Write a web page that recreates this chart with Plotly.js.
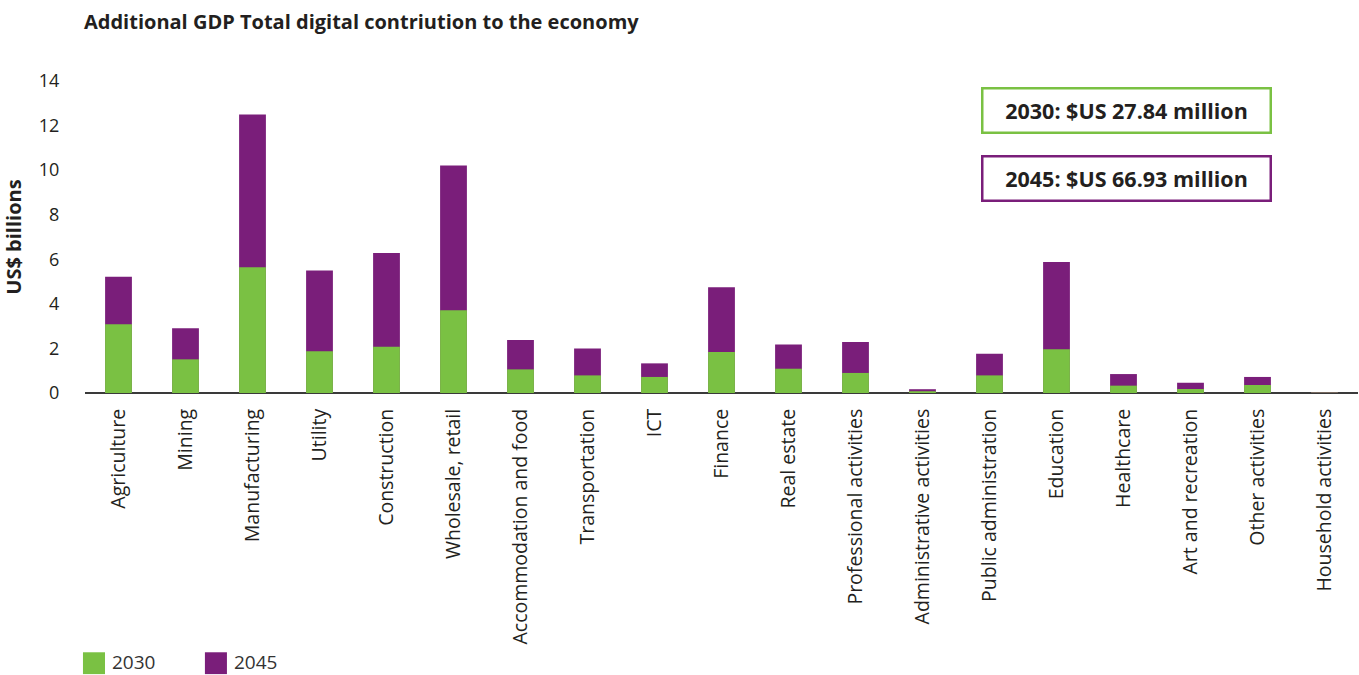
<!DOCTYPE html>
<html>
<head>
<meta charset="utf-8">
<script src="https://cdn.plot.ly/plotly-3.0.1.min.js"></script>
<style>
html,body{margin:0;padding:0;background:#fff;}
#chart{width:1359px;height:675px;}
</style>
</head>
<body>
<div id="chart"></div>
<script>
const categories = ["Agriculture","Mining","Manufacturing","Utility","Construction","Wholesale, retail","Accommodation and food","Transportation","ICT","Finance","Real estate","Professional activities","Administrative activities","Public administration","Education","Healthcare","Art and recreation","Other activities","Household activities"];
const values2030 = [3.08,1.51,5.64,1.87,2.08,3.71,1.06,0.79,0.72,1.84,1.09,0.90,0.08,0.79,1.96,0.33,0.18,0.36,0.02];
const values2045 = [5.22,2.90,12.50,5.50,6.28,10.21,2.38,2.00,1.33,4.74,2.18,2.29,0.17,1.76,5.88,0.85,0.46,0.72,0.04];
const yTicks = [0,2,4,6,8,10,12,14];
const seriesNames = ["2030","2045"];
const boxTexts = ["2030: $US 27.84 million","2045: $US 66.93 million"];

const GREEN = "#7ac143";
const PURPLE = "#7a1e7a";
const FONT = "Open Sans, Noto Sans, sans-serif";
const TXT = "#231f20";

const traces = [
  {type:"bar", name:seriesNames[1], x:categories, y:values2045, marker:{color:PURPLE}, width:0.4, showlegend:false},
  {type:"bar", name:seriesNames[0], x:categories, y:values2030, marker:{color:GREEN}, width:0.4, showlegend:false}
];

// custom legend (larger swatches as in the reference)
const legendShapes = [
  {type:"rect", xref:"paper", yref:"paper", x0:-0.0016, x1:0.0157, y0:-0.901, y1:-0.831, fillcolor:GREEN, line:{width:0}},
  {type:"rect", xref:"paper", yref:"paper", x0:0.0942, x1:0.1115, y0:-0.901, y1:-0.831, fillcolor:PURPLE, line:{width:0}}
];
const legendLabels = [
  {xref:"paper", yref:"paper", x:0.0196, y:-0.861, xanchor:"left", yanchor:"middle", text:seriesNames[0], showarrow:false, font:{size:19, color:"#333"}},
  {xref:"paper", yref:"paper", x:0.1154, y:-0.861, xanchor:"left", yanchor:"middle", text:seriesNames[1], showarrow:false, font:{size:19, color:"#333"}}
];

const layout = {
  width:1359, height:675,
  margin:{l:85, r:1, t:81, b:282, autoexpand:false},
  paper_bgcolor:"#fff", plot_bgcolor:"#fff",
  barmode:"overlay",
  font:{family:FONT, color:TXT, size:17},
  title:{text:"<b>Additional GDP Total digital contriution to the economy</b>", x:84/1359, xanchor:"left", y:1-22/675, yanchor:"middle", font:{size:20, family:FONT, color:TXT}},
  xaxis:{tickangle:-90, showgrid:false, showline:false, zeroline:false, ticks:"outside", ticklen:7, tickcolor:"rgba(0,0,0,0)", tickfont:{size:19.5, color:TXT}, automargin:false},
  yaxis:{range:[0,14], tickvals:yTicks, showgrid:false, zeroline:true, zerolinecolor:"#3a3a3a", zerolinewidth:2, showline:false, ticks:"outside", ticklen:21, tickcolor:"rgba(0,0,0,0)", tickfont:{size:18, color:TXT}, automargin:false,
    title:{text:"<b>US$ billions</b>", font:{size:20, color:TXT}, standoff:12}},
  showlegend:false,
  shapes:legendShapes,
  annotations:[
    {xref:"paper", yref:"paper", x:0.8183, y:0.907, xanchor:"center", yanchor:"middle", text:"<b>"+boxTexts[0]+"</b>", showarrow:false, font:{size:21.5, color:TXT}, bordercolor:GREEN, borderwidth:2.5, borderpad:6, width:274, height:30, align:"center", valign:"middle"},
    {xref:"paper", yref:"paper", x:0.8183, y:0.689, xanchor:"center", yanchor:"middle", text:"<b>"+boxTexts[1]+"</b>", showarrow:false, font:{size:21.5, color:TXT}, bordercolor:PURPLE, borderwidth:2.5, borderpad:6, width:274, height:30, align:"center", valign:"middle"}
  ].concat(legendLabels)
};

Plotly.newPlot("chart", traces, layout, {displayModeBar:false, staticPlot:true});
</script>
</body>
</html>
